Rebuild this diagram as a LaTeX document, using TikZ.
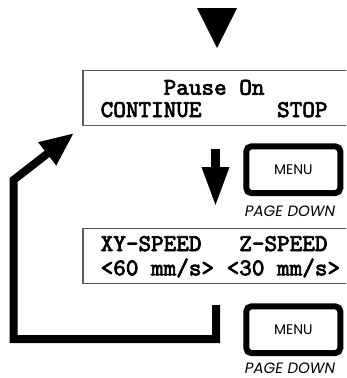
\documentclass[tikz,border=0pt]{standalone}
\usepackage{fontspec}
\usetikzlibrary{arrows.meta}
\newfontfamily\btnfont{Poppins}
\newfontfamily\lcdfont{lmmono10-regular.otf}[FakeBold=3]
\definecolor{boxgray}{HTML}{5A5A5A}
\begin{document}
\begin{tikzpicture}[x=1pt,y=-1pt,
  lcdbox/.style={draw=boxgray, line width=1.4pt, rectangle, inner sep=0pt,
    minimum width=290pt, minimum height=55pt},
  lcdtext/.style={anchor=base west, inner sep=0pt,
    font=\lcdfont\fontsize{24}{24}\selectfont},
  button/.style={draw=black, line width=6pt, rounded corners=5pt, rectangle,
    minimum width=94pt, minimum height=46.7pt, inner sep=0pt,
    font=\btnfont\fontsize{14}{14}\selectfont},
  btnlabel/.style={anchor=base, inner sep=0pt, text depth=0pt,
    font=\btnfont\itshape\fontsize{15}{15}\selectfont},
  flow/.style={line width=8pt, line join=miter},
]
\useasboundingbox (0,0) rectangle (346,378);
\clip (0,0) rectangle (346,378);

% top triangle
\fill (197,8) -- (237,8) -- (217,48) -- cycle;

% LCD boxes
\node[lcdbox] (box1) at (228,98) {};
\node[lcdbox] (box2) at (228,255.8) {};
\node[lcdtext] (l1) at (100.5,94.7) {~~~~~Pause~On};
\node[lcdtext] (l2) at (100.5,117) {CONTINUE~~~~~~STOP};
\node[lcdtext] (l3) at (100.5,251) {XY-SPEED~~~Z-SPEED};
\node[lcdtext] (l4) at (100.5,275.3) {<60~mm/s>~<30~mm/s>};

% buttons
\node[button] (menu1) at (293.3,169.7) {MENU};
\node[btnlabel] (pd1) at (290,216) {PAGE DOWN};
\node[button] (menu2) at (293.3,329.7) {MENU};
\node[btnlabel] (pd2) at (290,373) {PAGE DOWN};

% down arrow
\coordinate (dtop) at (215.5,149);
\coordinate (dtip) at (215.5,207);
\draw[line width=9pt, -{Triangle[length=40pt,width=25pt]}] (dtop) -- (dtip);

% loop-back arrow
\coordinate (lstart) at (216,305);
\coordinate (lc1) at (216,339);
\coordinate (lc2) at (13.5,339);
\coordinate (lc3) at (13.5,180);
\coordinate (ltip) at (74,133);
\draw[flow, -{Triangle[length=34pt,width=27pt]}] (lstart) -- (lc1) -- (lc2) -- (lc3) -- (ltip);
\end{tikzpicture}
\end{document}
